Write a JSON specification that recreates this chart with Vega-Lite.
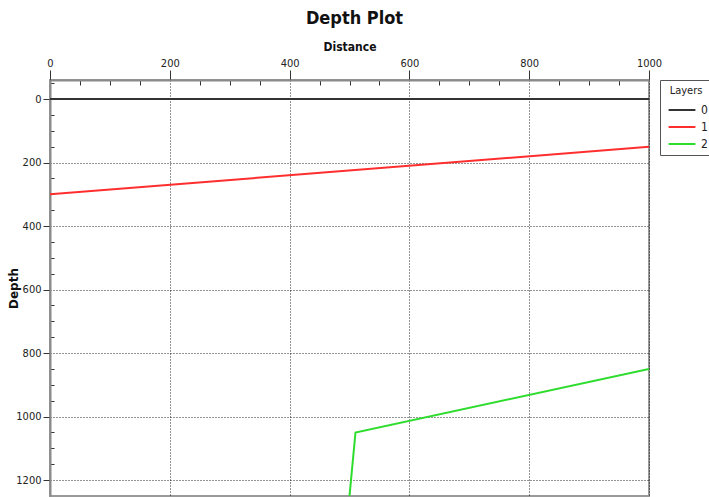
{
  "$schema": "https://vega.github.io/schema/vega-lite/v6.json",
  "autosize": "none",
  "padding": {"left": 50, "top": 80, "right": 60, "bottom": 1},
  "width": 599,
  "height": 416,
  "background": "white",
  "title": {
    "text": "Depth Plot",
    "font": "DejaVu Sans Condensed, Liberation Sans",
    "fontSize": 18,
    "fontWeight": "bold",
    "color": "#111",
    "anchor": "middle",
    "offset": 12,
    "dx": 5
  },
  "data": {
    "values": [
      {"layer": "0", "distance": 0, "depth": 0},
      {"layer": "0", "distance": 1000, "depth": 0},
      {"layer": "1", "distance": 0, "depth": 300},
      {"layer": "1", "distance": 1000, "depth": 150},
      {"layer": "2", "distance": 499, "depth": 1270},
      {"layer": "2", "distance": 510, "depth": 1050},
      {"layer": "2", "distance": 1000, "depth": 850}
    ]
  },
  "mark": {"type": "line", "strokeWidth": 2, "clip": true},
  "encoding": {
    "x": {
      "field": "distance",
      "type": "quantitative",
      "scale": {"domain": [0, 1000], "nice": false, "zero": false},
      "axis": {
        "orient": "top",
        "title": "Distance",
        "titleFont": "DejaVu Sans Condensed, Liberation Sans",
        "titleFontSize": 12,
        "titleFontWeight": "bold",
        "titleColor": "#111",
        "titleX": 299.5,
        "titleY": -34,
        "titleBaseline": "middle",
        "titleAlign": "center",
        "values": [0, 50, 100, 150, 200, 250, 300, 350, 400, 450, 500, 550, 600, 650, 700, 750, 800, 850, 900, 950, 1000],
        "labelExpr": "datum.value % 200 === 0 ? datum.label : ''",
        "labelOverlap": false,
        "labelFlush": false,
        "labelPadding": 2,
        "tickSize": {"condition": {"test": "datum.value % 200 === 0", "value": 10}, "value": -5},
        "tickColor": "#333",
        "grid": true,
        "gridOpacity": {"condition": {"test": "datum.value % 200 === 0", "value": 0.85}, "value": 0},
        "format": "d"
      }
    },
    "y": {
      "field": "depth",
      "type": "quantitative",
      "scale": {"domain": [-60, 1250], "reverse": true, "nice": false, "zero": false},
      "axis": {
        "orient": "left",
        "title": "Depth",
        "titleFont": "DejaVu Sans",
        "titleFontSize": 12,
        "titleFontWeight": "bold",
        "titleColor": "#111",
        "titleX": -37,
        "titleY": 208,
        "titleAngle": 270,
        "titleAlign": "center",
        "titleBaseline": "middle",
        "values": [-50, 0, 50, 100, 150, 200, 250, 300, 350, 400, 450, 500, 550, 600, 650, 700, 750, 800, 850, 900, 950, 1000, 1050, 1100, 1150, 1200],
        "labelExpr": "datum.value % 200 === 0 ? datum.label : ''",
        "labelOverlap": false,
        "labelFlush": false,
        "labelPadding": 2,
        "tickSize": {"condition": {"test": "datum.value % 200 === 0", "value": 7}, "value": -4},
        "tickColor": "#333",
        "grid": true,
        "gridOpacity": {"condition": {"test": "datum.value % 200 === 0", "value": 0.85}, "value": 0},
        "format": "d"
      }
    },
    "color": {
      "field": "layer",
      "type": "nominal",
      "scale": {"domain": ["0", "1", "2"], "range": ["#333333", "#ff2e2e", "#2edc2e"]},
      "legend": {
        "title": "Layers",
        "orient": "right",
        "offset": 11,
        "padding": 5,
        "strokeColor": "#555",
        "titleAnchor": "middle",
        "titleFont": "DejaVu Sans Condensed, Liberation Sans",
        "titleFontSize": 11,
        "titleFontWeight": "normal",
        "titleColor": "#222",
        "titlePadding": 6,
        "labelFont": "DejaVu Sans Condensed, Liberation Sans",
        "labelFontSize": 12,
        "labelColor": "#222",
        "symbolType": "M-2,0H2",
        "symbolSize": 180,
        "symbolStrokeWidth": 2,
        "symbolOffset": 9,
        "labelOffset": 11,
        "rowPadding": 3
      }
    }
  },
  "config": {
    "view": {"stroke": "#999", "strokeWidth": 2},
    "axis": {
      "labelFont": "DejaVu Sans Condensed, Liberation Sans",
      "labelFontSize": 11,
      "labelColor": "#222",
      "domainColor": "#8a8a8a",
      "domainWidth": 2,
      "gridColor": "#000",
      "gridDash": [1, 2],
      "gridWidth": 1
    }
  }
}
